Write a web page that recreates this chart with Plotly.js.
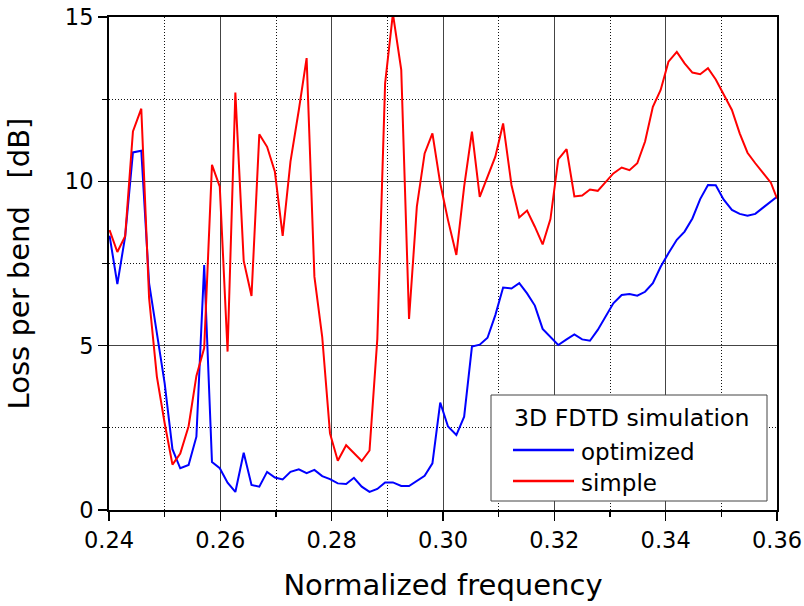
<!DOCTYPE html>
<html>
<head>
<meta charset="utf-8">
<script src="https://cdn.plot.ly/plotly-3.0.1.min.js"></script>
<style>html,body{margin:0;padding:0;background:#fff;}#chart{width:804px;height:606px;}</style>
</head>
<body>
<div id="chart"></div>
<script>
var frequency = [0.2401,0.2415,0.2429,0.2443,0.2458,0.2472,0.2486,0.2500,0.2514,0.2528,
  0.2543,0.2557,0.2571,0.2585,0.2599,0.2613,0.2627,0.2642,0.2656,0.2670,
  0.2684,0.2698,0.2712,0.2726,0.2741,0.2755,0.2769,0.2783,0.2797,0.2811,
  0.2826,0.2840,0.2854,0.2868,0.2882,0.2896,0.2910,0.2925,0.2939,0.2953,
  0.2967,0.2981,0.2995,0.3009,0.3024,0.3038,0.3052,0.3066,0.3080,0.3094,
  0.3108,0.3123,0.3137,0.3151,0.3165,0.3179,0.3193,0.3207,0.3222,0.3236,
  0.3250,0.3264,0.3278,0.3292,0.3306,0.3321,0.3335,0.3349,0.3363,0.3377,
  0.3391,0.3405,0.3420,0.3434,0.3448,0.3462,0.3476,0.3490,0.3504,0.3519,
  0.3533,0.3547,0.3561,0.3575,0.3589,0.3600];

var optimizedLoss = [8.35,6.87,8.32,10.88,10.93,6.90,5.38,3.85,1.85,1.27,
  1.37,2.23,7.45,1.46,1.27,0.83,0.55,1.74,0.76,0.71,
  1.16,0.99,0.93,1.16,1.24,1.12,1.22,1.03,0.94,0.81,
  0.79,0.98,0.71,0.55,0.64,0.84,0.84,0.73,0.73,0.88,
  1.04,1.42,3.27,2.54,2.28,2.84,4.97,5.03,5.24,5.93,
  6.77,6.74,6.90,6.59,6.22,5.51,5.25,5.02,5.19,5.34,
  5.19,5.15,5.48,5.88,6.29,6.54,6.57,6.52,6.64,6.90,
  7.40,7.81,8.22,8.47,8.87,9.46,9.89,9.88,9.45,9.13,
  9.01,8.95,9.01,9.20,9.40,9.53];

var simpleLoss = [8.52,7.85,8.33,11.52,12.21,6.45,4.06,2.64,1.38,1.72,
  2.55,4.08,4.93,10.50,9.84,4.82,12.70,7.58,6.51,11.43,
  11.05,10.29,8.34,10.60,12.17,13.75,7.10,5.27,2.33,1.50,
  1.97,1.74,1.49,1.81,5.20,12.98,15.10,13.39,5.81,9.23,
  10.85,11.46,9.94,8.82,7.76,9.84,11.51,9.53,10.14,10.75,
  11.76,9.89,8.90,9.11,8.62,8.08,8.85,10.67,10.98,9.54,
  9.57,9.75,9.71,9.97,10.24,10.42,10.34,10.55,11.21,12.27,
  12.78,13.64,13.94,13.59,13.31,13.26,13.44,13.10,12.63,12.17,
  11.46,10.87,10.55,10.24,9.96,9.48];

var seriesNames = ['optimized', 'simple'];
var seriesColors = ['#0000ff', '#ff0000'];
var legendTitle = '3D FDTD simulation';
var xTitle = 'Normalized frequency';
var yTitle = 'Loss per bend\u00a0\u00a0\u00a0[dB]';

var FONT = '"DejaVu Sans", Verdana, sans-serif';

var seriesValues = [optimizedLoss, simpleLoss];
var traces = seriesNames.map(function (n, i) {
  return {x: frequency, y: seriesValues[i], name: n, type: 'scatter', mode: 'lines',
          line: {color: seriesColors[i], width: 2}};
});

// plot area in pixels: left 109, right 777, top 17, bottom 510
var PL = 109, PW = 668, PT = 17, PH = 493;
function px(xp) { return (xp - PL) / PW; }
function py(yp) { return (PT + PH - yp) / PH; }

var shapes = [
  {type: 'rect', xref: 'paper', yref: 'paper', x0: px(491), x1: px(767), y0: py(501), y1: py(395),
   line: {color: '#444', width: 1}, fillcolor: '#fff', layer: 'above'}
];
var annotations = [
  {xref: 'paper', yref: 'paper', x: px(512), y: py(418), xanchor: 'left', yanchor: 'middle',
   text: legendTitle, showarrow: false, font: {family: FONT, size: 23.6, color: '#000'}}
];
var rowY = [450, 481];
seriesNames.forEach(function (n, i) {
  shapes.push({type: 'line', xref: 'paper', yref: 'paper', x0: px(513), x1: px(574),
               y0: py(rowY[i]), y1: py(rowY[i]), line: {color: seriesColors[i], width: 2.5}, layer: 'above'});
  annotations.push({xref: 'paper', yref: 'paper', x: px(579), y: py(rowY[i] + 2), xanchor: 'left', yanchor: 'middle',
                    text: n, showarrow: false, font: {family: FONT, size: 23, color: '#000'}});
});

var axisCommon = {
  showline: true, linecolor: '#000', linewidth: 2, mirror: true,
  ticks: 'outside', ticklen: 9, tickwidth: 1.5, tickcolor: '#000',
  showgrid: true, gridcolor: '#444', gridwidth: 1,
  zeroline: false,
  tickfont: {family: FONT, size: 22.5, color: '#000'}
};

var layout = {
  width: 804, height: 606,
  margin: {l: PL, r: 804 - PL - PW, t: PT, b: 606 - PT - PH, pad: 0},
  paper_bgcolor: '#fff', plot_bgcolor: '#fff',
  font: {family: FONT, color: '#000'},
  showlegend: false,
  xaxis: Object.assign({}, axisCommon, {
    range: [0.24, 0.36], dtick: 0.02, tick0: 0.24, tickformat: '.2f',
    minor: {dtick: 0.01, ticks: 'outside', ticklen: 5, tickwidth: 1.2, tickcolor: '#000',
            showgrid: true, griddash: '1px,2px', gridcolor: '#111', gridwidth: 1},
    title: {text: xTitle, font: {family: FONT, size: 29, color: '#000'}, standoff: 23}
  }),
  yaxis: Object.assign({}, axisCommon, {
    range: [0, 15], dtick: 5, tick0: 0,
    minor: {dtick: 2.5, ticks: 'outside', ticklen: 5, tickwidth: 1.2, tickcolor: '#000',
            showgrid: true, griddash: '1px,2px', gridcolor: '#111', gridwidth: 1},
    title: {text: yTitle, font: {family: FONT, size: 29, color: '#000'}, standoff: 27}
  }),
  shapes: shapes,
  annotations: annotations
};

Plotly.newPlot('chart', traces, layout, {displayModeBar: false, staticPlot: true});
</script>
</body>
</html>
